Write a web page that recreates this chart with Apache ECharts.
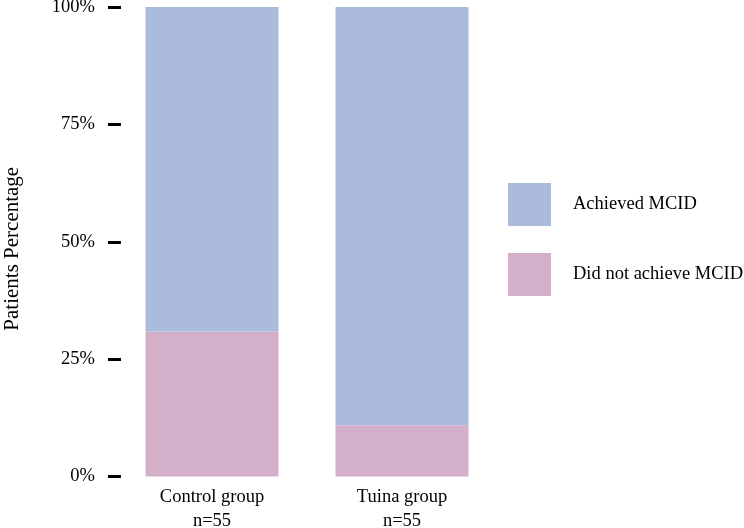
<!DOCTYPE html>
<html>
<head>
<meta charset="utf-8">
<script src="https://cdn.jsdelivr.net/npm/echarts@6/dist/echarts.min.js"></script>
<style>html,body{margin:0;padding:0;background:#fff}#c{width:744px;height:528px}</style>
</head>
<body>
<div id="c"></div>
<script>
var categories = ['Control group', 'Tuina group'];
var sampleSizes = ['n=55', 'n=55'];
var notAchieved = [30.9, 10.9];
var achieved = [69.1, 89.1];
var yTicks = [0, 25, 50, 75, 100];
var seriesNames = ['Achieved MCID', 'Did not achieve MCID'];

var chart = echarts.init(document.getElementById('c'));
var font = 'Liberation Serif, Times New Roman, serif';
chart.setOption({
  animation: false,
  grid: { left: 117, right: 247, top: 7, bottom: 51.5, outerBoundsMode: 'none', containLabel: false },
  xAxis: {
    type: 'category',
    data: categories,
    axisLine: { show: false },
    axisTick: { show: false },
    axisLabel: {
      margin: 9,
      fontFamily: font, fontSize: 18.5, color: '#000', lineHeight: 24,
      formatter: function (v, i) { return v + '\n' + sampleSizes[i]; }
    }
  },
  yAxis: {
    type: 'value',
    min: 0, max: 100, interval: 25,
    offset: -4,
    name: 'Patients Percentage',
    nameLocation: 'middle',
    nameGap: 98,
    nameTextStyle: { fontFamily: font, fontSize: 21, color: '#000', padding: [0, 14, 0, 0] },
    splitLine: { show: false },
    axisLine: { show: false },
    axisTick: { show: true, length: 13, lineStyle: { color: '#000', width: 3 } },
    axisLabel: {
      margin: 26,
      fontFamily: font, fontSize: 18.5, color: '#000',
      formatter: function (v) { return yTicks.indexOf(v) >= 0 ? v + '%' : ''; }
    }
  },
  legend: {
    orient: 'vertical',
    left: 508, top: 183, padding: 0,
    itemWidth: 43, itemHeight: 43, itemGap: 27,
    icon: 'rect',
    data: seriesNames,
    textStyle: { fontFamily: font, fontSize: 18.5, color: '#000', padding: [0, 0, 0, 17] }
  },
  series: [
    { name: seriesNames[1], type: 'bar', stack: 'a', data: notAchieved, barWidth: '70%',
      itemStyle: { color: '#D4AFCA' } },
    { name: seriesNames[0], type: 'bar', stack: 'a', data: achieved, barWidth: '70%',
      itemStyle: { color: '#AABBDB' } }
  ]
});
</script>
</body>
</html>
